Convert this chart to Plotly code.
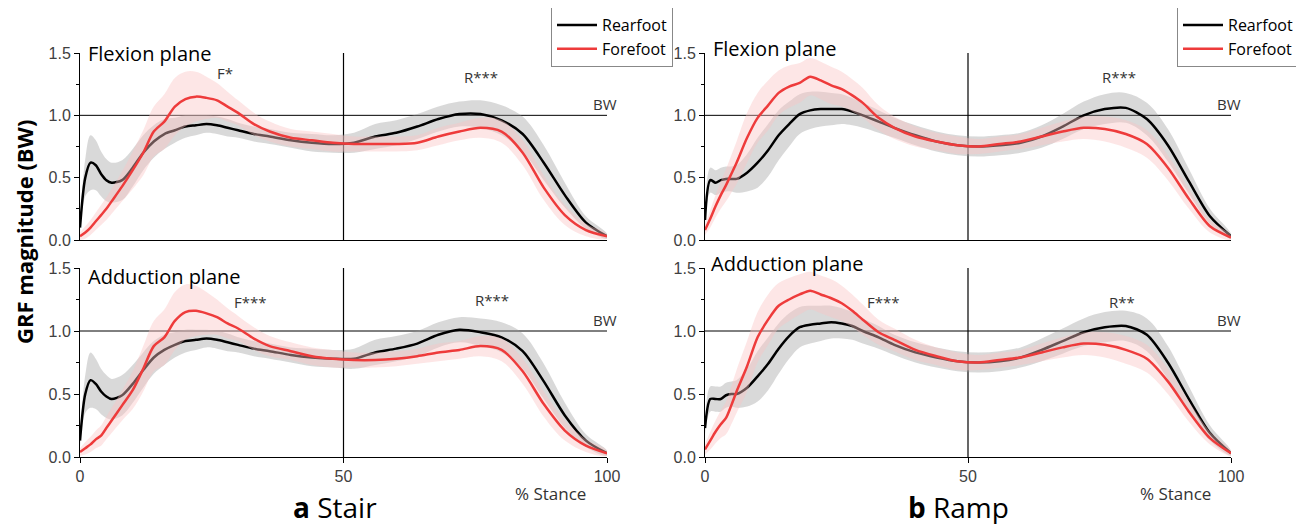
import plotly.graph_objects as go

# % stance sample points
PCT = [0, 1, 2, 3, 4, 5, 6, 8, 10, 12, 14, 16, 18, 20, 22, 24, 26, 28, 30, 33, 36,
       40, 44, 48, 52, 56, 60, 64, 68, 72, 76, 80, 84, 88, 92, 96, 100]

# ---- Stair, flexion plane ----
STAIR_FLEX_REAR = [0.10, 0.50, 0.62, 0.60, 0.53, 0.48, 0.46, 0.48, 0.58, 0.70, 0.79, 0.85, 0.88,
                   0.91, 0.92, 0.93, 0.92, 0.90, 0.88, 0.85, 0.83, 0.80, 0.78, 0.77, 0.78, 0.83,
                   0.86, 0.91, 0.97, 1.01, 1.01, 0.96, 0.85, 0.62, 0.36, 0.14, 0.03]
STAIR_FLEX_FORE = [0.03, 0.06, 0.10, 0.15, 0.20, 0.25, 0.31, 0.43, 0.56, 0.70, 0.87, 0.95, 1.07,
                   1.13, 1.15, 1.14, 1.12, 1.07, 1.02, 0.93, 0.87, 0.82, 0.80, 0.78, 0.77, 0.77,
                   0.77, 0.78, 0.83, 0.87, 0.90, 0.87, 0.70, 0.42, 0.20, 0.08, 0.03]
# ---- Stair, adduction plane ----
STAIR_ADD_REAR = [0.13, 0.50, 0.61, 0.58, 0.52, 0.48, 0.46, 0.49, 0.58, 0.69, 0.79, 0.85, 0.89,
                  0.92, 0.93, 0.94, 0.93, 0.91, 0.89, 0.86, 0.84, 0.81, 0.79, 0.78, 0.78, 0.83,
                  0.86, 0.90, 0.97, 1.01, 0.99, 0.95, 0.84, 0.60, 0.33, 0.13, 0.03]
STAIR_ADD_FORE = [0.04, 0.07, 0.10, 0.14, 0.17, 0.23, 0.29, 0.41, 0.53, 0.70, 0.88, 0.95, 1.08,
                  1.15, 1.16, 1.14, 1.11, 1.06, 1.02, 0.94, 0.88, 0.84, 0.80, 0.78, 0.77, 0.77,
                  0.78, 0.80, 0.83, 0.85, 0.88, 0.85, 0.68, 0.42, 0.21, 0.09, 0.03]
# ---- Ramp, flexion plane ----
RAMP_FLEX_REAR = [0.16, 0.48, 0.46, 0.48, 0.49, 0.49, 0.49, 0.54, 0.62, 0.72, 0.84, 0.93, 1.01,
                  1.04, 1.05, 1.05, 1.05, 1.03, 1.00, 0.95, 0.90, 0.84, 0.79, 0.76, 0.75, 0.76,
                  0.78, 0.83, 0.91, 1.00, 1.05, 1.06, 0.97, 0.76, 0.47, 0.19, 0.03]
RAMP_FLEX_FORE = [0.08, 0.17, 0.27, 0.36, 0.44, 0.53, 0.62, 0.82, 0.98, 1.08, 1.18, 1.23, 1.26,
                  1.31, 1.28, 1.24, 1.21, 1.16, 1.10, 0.98, 0.90, 0.83, 0.79, 0.76, 0.75, 0.77,
                  0.79, 0.83, 0.87, 0.90, 0.89, 0.85, 0.77, 0.58, 0.33, 0.11, 0.02]
# ---- Ramp, adduction plane ----
RAMP_ADD_REAR = [0.23, 0.46, 0.46, 0.46, 0.49, 0.50, 0.50, 0.55, 0.64, 0.74, 0.86, 0.96, 1.03,
                 1.05, 1.06, 1.07, 1.06, 1.04, 1.00, 0.95, 0.89, 0.83, 0.79, 0.76, 0.75, 0.76,
                 0.79, 0.85, 0.92, 0.99, 1.03, 1.04, 0.97, 0.75, 0.46, 0.19, 0.03]
RAMP_ADD_FORE = [0.06, 0.13, 0.20, 0.26, 0.31, 0.41, 0.52, 0.72, 0.95, 1.09, 1.20, 1.25, 1.29,
                 1.32, 1.29, 1.26, 1.22, 1.16, 1.09, 0.99, 0.93, 0.85, 0.80, 0.76, 0.75, 0.77,
                 0.79, 0.83, 0.87, 0.90, 0.89, 0.85, 0.78, 0.60, 0.36, 0.15, 0.03]

# ---- standard deviations (shaded bands) ----
STAIR_REAR_SD = [0.05, 0.15, 0.22, 0.20, 0.18, 0.17, 0.16, 0.16, 0.15, 0.14, 0.13, 0.12, 0.10,
                 0.09, 0.08, 0.07, 0.07, 0.07, 0.06, 0.06, 0.06, 0.06, 0.07, 0.07, 0.08, 0.10,
                 0.10, 0.10, 0.10, 0.10, 0.11, 0.12, 0.14, 0.14, 0.10, 0.05, 0.02]
STAIR_FORE_SD = [0.03, 0.05, 0.06, 0.07, 0.08, 0.09, 0.10, 0.12, 0.15, 0.18, 0.20, 0.22, 0.23,
                 0.22, 0.20, 0.17, 0.14, 0.12, 0.10, 0.09, 0.08, 0.07, 0.07, 0.07, 0.06, 0.06,
                 0.06, 0.06, 0.07, 0.07, 0.08, 0.09, 0.10, 0.10, 0.08, 0.05, 0.02]
RAMP_REAR_SD = [0.05, 0.10, 0.10, 0.10, 0.10, 0.10, 0.11, 0.15, 0.20, 0.21, 0.20, 0.18, 0.16,
                0.15, 0.14, 0.13, 0.12, 0.11, 0.10, 0.09, 0.08, 0.08, 0.08, 0.08, 0.08, 0.08,
                0.08, 0.09, 0.10, 0.11, 0.12, 0.12, 0.13, 0.13, 0.10, 0.06, 0.02]
RAMP_FORE_SD = [0.04, 0.07, 0.09, 0.11, 0.13, 0.15, 0.17, 0.20, 0.20, 0.20, 0.18, 0.17, 0.16,
                0.15, 0.15, 0.15, 0.14, 0.13, 0.12, 0.10, 0.09, 0.08, 0.07, 0.07, 0.06, 0.06,
                0.06, 0.07, 0.08, 0.09, 0.10, 0.11, 0.11, 0.10, 0.08, 0.05, 0.02]

SERIES_NAMES = ["Rearfoot", "Forefoot"]
PLANE_TITLES = ["Flexion plane", "Adduction plane"]
Y_TICKS = [0, 0.5, 1.0, 1.5]
Y_TICK_TEXT = ["0.0", "0.5", "1.0", "1.5"]
X_TICKS = [0, 50, 100]

# significance labels: (text, pct, value)
SIG_LABELS = {
    "stair_flex": [("F*", 27.5, 1.34), ("R***", 76.0, 1.31)],
    "stair_add": [("F***", 32.3, 1.23), ("R***", 78.2, 1.25)],
    "ramp_flex": [("R***", 78.7, 1.31)],
    "ramp_add": [("F***", 33.9, 1.23), ("R**", 79.2, 1.23)],
}

BLACK = "#000000"
RED = "#ee3b3b"
GREY_BAND = "rgba(150,150,150,0.36)"
PINK_BAND = "rgba(250,195,195,0.42)"
FONT = "Open Sans"
TICKFONT = "Liberation Sans"
TXT = "#333333"

W, H = 1304, 524
OFF = 8  # the page body adds an 8px margin


def px(x):
    return (x - OFF) / W


def py(y):
    return 1 - (y - OFF) / H


XL = [px(80), px(607)]
XR = [px(705), px(1231)]
YT = [py(240), py(53)]
YB = [py(457), py(268)]

fig = go.Figure()

panels = [
    ("stair_flex", "x", "y", STAIR_FLEX_REAR, STAIR_FLEX_FORE, STAIR_REAR_SD, STAIR_FORE_SD, "legend"),
    ("ramp_flex", "x2", "y2", RAMP_FLEX_REAR, RAMP_FLEX_FORE, RAMP_REAR_SD, RAMP_FORE_SD, "legend2"),
    ("stair_add", "x3", "y3", STAIR_ADD_REAR, STAIR_ADD_FORE, STAIR_REAR_SD, STAIR_FORE_SD, None),
    ("ramp_add", "x4", "y4", RAMP_ADD_REAR, RAMP_ADD_FORE, RAMP_REAR_SD, RAMP_FORE_SD, None),
]


def band(mean, sd, color, xa, ya):
    up = [m + s for m, s in zip(mean, sd)]
    lo = [max(m - s, 0.0) for m, s in zip(mean, sd)]
    return go.Scatter(x=PCT + PCT[::-1], y=up + lo[::-1], fill="toself", fillcolor=color,
                      line=dict(width=0, shape="spline"), mode="lines", hoverinfo="skip",
                      showlegend=False, xaxis=xa, yaxis=ya)


for key, xa, ya, rear, fore, rsd, fsd, leg in panels:
    fig.add_trace(band(rear, rsd, GREY_BAND, xa, ya))
    fig.add_trace(go.Scatter(x=PCT, y=rear, mode="lines", name=SERIES_NAMES[0],
                             line=dict(color=BLACK, width=2.5, shape="spline", smoothing=0.8),
                             xaxis=xa, yaxis=ya, showlegend=leg is not None,
                             legend=leg if leg else "legend"))
    fig.add_trace(band(fore, fsd, PINK_BAND, xa, ya))
    fig.add_trace(go.Scatter(x=PCT, y=fore, mode="lines", name=SERIES_NAMES[1],
                             line=dict(color=RED, width=2.5, shape="spline", smoothing=0.8),
                             xaxis=xa, yaxis=ya, showlegend=leg is not None,
                             legend=leg if leg else "legend"))

axis_common_y = dict(range=[0, 1.5], tickvals=Y_TICKS, ticktext=Y_TICK_TEXT,
                     ticks="outside", ticklen=5,
                     tickcolor="black", showline=True, linecolor="black", linewidth=1,
                     showgrid=False, zeroline=False, automargin=False,
                     tickfont=dict(family=TICKFONT, size=16, color="#404040"),
                     minor=dict(dtick=0.25, ticks="outside", ticklen=3, tickcolor="black"))
axis_common_x = dict(range=[0, 100], showline=True, linecolor="black", linewidth=1,
                     showgrid=False, zeroline=False, tickvals=X_TICKS, automargin=False,
                     tickfont=dict(family=TICKFONT, size=16, color="#404040"))

fig.update_layout(
    xaxis=dict(domain=XL, anchor="y", showticklabels=False, ticks="", **axis_common_x),
    yaxis=dict(domain=YT, anchor="x", **axis_common_y),
    xaxis2=dict(domain=XR, anchor="y2", showticklabels=False, ticks="", **axis_common_x),
    yaxis2=dict(domain=YT, anchor="x2", **axis_common_y),
    xaxis3=dict(domain=XL, anchor="y3", ticks="outside", ticklen=5, tickcolor="black",
                **axis_common_x),
    yaxis3=dict(domain=YB, anchor="x3", **axis_common_y),
    xaxis4=dict(domain=XR, anchor="y4", ticks="outside", ticklen=5, tickcolor="black",
                **axis_common_x),
    yaxis4=dict(domain=YB, anchor="x4", **axis_common_y),
)

shapes = []
for xa, ya in [("x", "y"), ("x2", "y2"), ("x3", "y3"), ("x4", "y4")]:
    shapes.append(dict(type="line", xref=xa, yref=ya, x0=0, x1=100, y0=1, y1=1,
                       line=dict(color="black", width=1), layer="below"))
    shapes.append(dict(type="line", xref=xa, yref=ya, x0=50, x1=50, y0=0, y1=1.5,
                       line=dict(color="black", width=1.2), layer="below"))

annotations = []
axes_for = {"stair_flex": ("x", "y"), "ramp_flex": ("x2", "y2"),
            "stair_add": ("x3", "y3"), "ramp_add": ("x4", "y4")}
for key, labs in SIG_LABELS.items():
    xa, ya = axes_for[key]
    for text, sx, sy in labs:
        annotations.append(dict(text=text, x=sx, y=sy, xref=xa, yref=ya, showarrow=False,
                                xanchor="center", yanchor="middle",
                                font=dict(family=FONT, size=15, color=TXT)))
    annotations.append(dict(text="BW", x=99.6, y=1.09, xref=xa, yref=ya, showarrow=False,
                            xanchor="center", yanchor="middle",
                            font=dict(family=FONT, size=15, color=TXT)))

for text, xp, yp in [(PLANE_TITLES[0], 86, 53), (PLANE_TITLES[0], 711, 48),
                     (PLANE_TITLES[1], 86, 276), (PLANE_TITLES[1], 709, 264)]:
    annotations.append(dict(text=text, x=px(xp), y=py(yp), xref="paper", yref="paper",
                            xanchor="left", yanchor="middle", showarrow=False,
                            font=dict(family=FONT, size=20, color="black")))

annotations += [
    dict(text="<b>GRF magnitude (BW)</b>", x=px(24), y=py(232), xref="paper", yref="paper",
         xanchor="center", yanchor="middle", textangle=-90, showarrow=False,
         font=dict(family=FONT, size=22, color="black")),
    dict(text="<b>a</b> Stair", x=px(335), y=py(507), xref="paper", yref="paper",
         xanchor="center", yanchor="middle", showarrow=False,
         font=dict(family=FONT, size=28, color="black")),
    dict(text="<b>b</b> Ramp", x=px(958), y=py(507), xref="paper", yref="paper",
         xanchor="center", yanchor="middle", showarrow=False,
         font=dict(family=FONT, size=28, color="black")),
    dict(text="% Stance", x=px(550), y=py(493), xref="paper", yref="paper",
         xanchor="center", yanchor="middle", showarrow=False,
         font=dict(family=FONT, size=17, color=TXT)),
    dict(text="% Stance", x=px(1175), y=py(493), xref="paper", yref="paper",
         xanchor="center", yanchor="middle", showarrow=False,
         font=dict(family=FONT, size=17, color=TXT)),
]

legend_style = dict(bgcolor="white", bordercolor="#888888", borderwidth=1,
                    font=dict(family=FONT, size=16, color="black"), xanchor="left",
                    yanchor="top", tracegroupgap=0, itemwidth=40)

fig.update_layout(
    width=W, height=H, autosize=False,
    margin=dict(l=0, r=0, t=0, b=0, autoexpand=False),
    paper_bgcolor="white", plot_bgcolor="white",
    shapes=shapes, annotations=annotations,
    legend=dict(x=px(551), y=py(7), **legend_style),
    legend2=dict(x=px(1177), y=py(7), **legend_style),
    font=dict(family=FONT),
)

fig.write_html("out.html")
